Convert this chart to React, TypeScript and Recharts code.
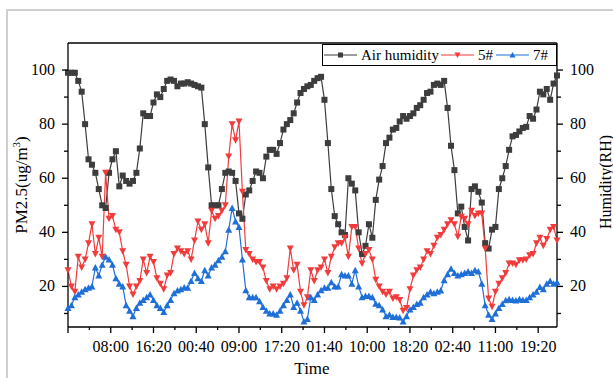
import React from "react";
import { LineChart, Line, XAxis, YAxis, ReferenceLine } from "recharts";

// one reading every 40 min, starting 23:40 of day 0
const sampleMinutes = 40;

const humidity = [
  99, 99, 99, 96, 92, 80, 67, 65, 62, 56, 50, 49, 62, 67, 70, 57, 61, 59, 58, 59,
  62, 71, 84, 83, 83, 88, 91, 90, 93, 96, 96.5, 96, 94, 95, 95, 95.5, 95, 94.5, 94, 93.5,
  80, 64, 50, 50, 50, 56, 62, 62.5, 62, 59, 47, 45, 54, 55.5, 59, 62.5, 62, 60, 68, 70.5,
  70.5, 69, 73, 78, 80, 81.5, 84, 88, 91.5, 93, 94, 94.5, 96, 97, 97.5, 89, 73, 56, 46, 43,
  40, 39, 60, 58, 55.5, 40, 32, 35, 43, 38, 52, 59.5, 64.5, 73, 75, 78, 78.6, 81, 83, 82,
  83, 84, 86, 87, 89, 91.5, 92, 94.5, 95, 94.5, 96, 86, 72, 63, 47, 49.5, 42, 37, 56, 57,
  55, 51, 36, 34, 41, 42, 56, 60, 64.5, 70.5, 75.5, 76, 77.3, 78.6, 79, 83, 82, 85.4, 92, 91,
  93, 89, 95, 98,
];

const pm5 = [
  26, 20, 18, 31, 27, 30, 36, 43, 32, 38, 31, 62, 45, 46, 41, 40, 33, 28, 20, 17,
  20, 22, 30, 25, 31, 29, 23, 21, 19, 24, 25, 32, 34, 33, 32, 33, 30, 37, 44, 41,
  43, 36, 48, 45, 46, 48, 50, 68, 80, 74, 81, 55, 33.5, 32, 30, 29, 29, 27, 22, 19,
  20, 19, 20, 21, 23, 34, 26, 28, 18, 13, 16, 26, 22, 26, 27, 30, 25, 31, 34.5, 36,
  36, 38, 31, 42, 42, 34, 28.5, 32, 33.5, 30, 22.5, 20, 18, 17, 18, 15.5, 16, 15, 11, 12,
  19, 24, 26, 27, 30, 33, 32, 35, 38, 39, 41, 43, 44.5, 43, 38.4, 45.8, 45, 43, 48, 46,
  47, 47, 34, 15.5, 12.5, 18, 21, 23, 25, 28.5, 28.5, 28, 29.7, 29.7, 30, 31.5, 32, 36, 38, 35,
  37.5, 41, 42, 37,
];

const pm7 = [
  12, 13, 16, 17, 18, 19, 19.5, 20, 27, 24, 28, 31, 30, 28, 23, 21, 20, 13, 11, 9,
  12, 14, 15, 16, 17, 15, 13, 12, 10.5, 13, 15, 17.5, 18.5, 19, 19.6, 19.5, 22, 25, 23, 22,
  26, 24, 27, 28, 29.7, 31, 33, 41, 49, 44, 42, 30, 18.6, 16, 16, 16, 14.5, 12.4, 11, 10,
  10, 9.5, 11, 13, 15, 17, 12.4, 14, 11, 7, 8, 16, 15, 17, 18.6, 19.5, 19.5, 21.5, 20, 20,
  24.5, 24, 24, 21, 26, 20, 16, 16.5, 16.5, 16, 13.6, 13, 11.5, 9, 9.5, 8.7, 8.7, 8.5, 7, 9,
  11.5, 12.4, 13.5, 14, 16, 17, 18, 17.5, 18, 18.5, 22.3, 24.5, 26.5, 25, 24, 24.5, 25, 25.5, 25, 26,
  25.5, 21, 13, 9.5, 8, 10, 12, 13.5, 14.9, 15.3, 15, 14.8, 15.3, 15, 15, 16, 17, 18, 19.8, 19,
  21, 22, 21, 21.5,
];

// labelled every 8h20m, first label one step after the start
const timeLabels = ["08:00", "16:20", "00:40", "09:00", "17:20", "01:40", "10:00", "18:20", "02:40", "11:00", "19:20"];
const labelStep = 500;
const yTicks = [10, 20, 30, 40, 50, 60, 70, 80, 90, 100];
const yDomain = [5, 110];

const FONT = '"Liberation Serif", "Times New Roman", serif';
const BLACK = "#3d3d3d";
const RED = "#f23b3b";
const BLUE = "#1f6fd8";

const data = humidity.map((h, i) => ({ t: i * sampleMinutes, humidity: h, s5: pm5[i], s7: pm7[i] }));
const xMax = (humidity.length - 1) * sampleMinutes;
const xTicks: number[] = [];
for (let t = 0; t <= xMax; t += labelStep / 2) xTicks.push(t);

function XTick({ x, y, payload }: any) {
  const major = payload.value % labelStep === 0;
  const idx = payload.value / labelStep - 1;
  return (
    <g>
      <line x1={x} x2={x} y1={y} y2={y + (major ? 6 : 3)} stroke="#000" strokeWidth={1.3} />
      {major && idx >= 0 && (
        <text x={x} y={y + 25} textAnchor="middle" fontSize={16} fontFamily={FONT} fill="#000">
          {timeLabels[idx]}
        </text>
      )}
    </g>
  );
}

function YTick({ x, y, payload, side }: any) {
  const major = payload.value % 20 === 0;
  const len = major ? 6 : 4;
  const dir = side === "left" ? -1 : 1;
  return (
    <g>
      <line x1={x} x2={x + dir * len} y1={y} y2={y} stroke="#000" strokeWidth={1.3} />
      {major && (
        <text
          x={x + dir * 13}
          y={y + 5}
          textAnchor={side === "left" ? "end" : "start"}
          fontSize={16}
          fontFamily={FONT}
          fill="#000"
        >
          {payload.value}
        </text>
      )}
    </g>
  );
}

const squareDot = (p: any) => (
  <rect key={`h${p.index}`} x={p.cx - 3} y={p.cy - 3} width={6} height={6} fill={BLACK} />
);
const downDot = (p: any) => (
  <path key={`a${p.index}`} d={`M${p.cx - 3.5},${p.cy - 3}L${p.cx + 3.5},${p.cy - 3}L${p.cx},${p.cy + 3.5}Z`} fill={RED} />
);
const upDot = (p: any) => (
  <path key={`b${p.index}`} d={`M${p.cx - 3.5},${p.cy + 3}L${p.cx + 3.5},${p.cy + 3}L${p.cx},${p.cy - 3.5}Z`} fill={BLUE} />
);

const leftTitle = () => (
  <text transform="rotate(-90, 27, 185)" x={27} y={185} textAnchor="middle" fontSize={17} fontFamily={FONT} fill="#000">
    PM2.5(ug/m<tspan dy={-7} fontSize={11}>3</tspan>
    <tspan dy={7}>)</tspan>
  </text>
);

const rightTitle = () => (
  <text transform="rotate(-90, 611, 182)" x={611} y={182} textAnchor="middle" fontSize={16} fontFamily={FONT} fill="#000">
    Humidity(RH)
  </text>
);

function LegendIcon({ color, shape }: { color: string; shape: string }) {
  return (
    <svg width={33} height={10} style={{ display: "block" }}>
      <line x1={0} x2={33} y1={5} y2={5} stroke={color} strokeWidth={1.2} />
      {shape === "square" && <rect x={14} y={2.5} width={5} height={5} fill={color} />}
      {shape === "down" && <path d="M13.5,2.5L19.5,2.5L16.5,8Z" fill={color} />}
      {shape === "up" && <path d="M13.5,7.5L19.5,7.5L16.5,2Z" fill={color} />}
    </svg>
  );
}

export default function App() {
  return (
    <div style={{ position: "absolute", left: 0, top: 0, width: 613, height: 378, background: "#fff", overflow: "hidden" }}>
      <div
        style={{
          position: "absolute",
          left: 6,
          top: 9,
          width: 613,
          height: 378,
          borderTop: "2px solid #cfcfcf",
          borderLeft: "2px solid #cfcfcf",
        }}
      />
      <LineChart width={613} height={378} data={data} margin={{ top: 43, right: 16, left: 28, bottom: 0 }}>
        <XAxis
          dataKey="t"
          type="number"
          domain={[0, xMax]}
          ticks={xTicks}
          interval={0}
          height={51}
          tickSize={0}
          tickMargin={0}
          tick={<XTick />}
          axisLine={{ stroke: "#000", strokeWidth: 1.3 }}
          label={() => (
            <text x={312} y={374} textAnchor="middle" fontSize={17} fontFamily={FONT} fill="#000">
              Time
            </text>
          )}
        />
        <YAxis
          yAxisId="left"
          domain={yDomain}
          ticks={yTicks}
          interval={0}
          width={40}
          tickSize={0}
          tickMargin={0}
          tick={<YTick side="left" />}
          axisLine={{ stroke: "#000", strokeWidth: 1.3 }}
          allowDataOverflow
          label={leftTitle}
        />
        <YAxis
          yAxisId="right"
          orientation="right"
          domain={yDomain}
          ticks={yTicks}
          interval={0}
          width={40}
          tickSize={0}
          tickMargin={0}
          tick={<YTick side="right" />}
          axisLine={{ stroke: "#000", strokeWidth: 1.3 }}
          allowDataOverflow
          label={rightTitle}
        />
        <ReferenceLine yAxisId="left" y={yDomain[1]} stroke="#000" strokeWidth={1.3} />
        <Line yAxisId="right" dataKey="humidity" stroke={BLACK} strokeWidth={1.2} dot={squareDot} isAnimationActive={false} />
        <Line yAxisId="left" dataKey="s5" stroke={RED} strokeWidth={1.2} dot={downDot} isAnimationActive={false} />
        <Line yAxisId="left" dataKey="s7" stroke={BLUE} strokeWidth={1.2} dot={upDot} isAnimationActive={false} />
      </LineChart>
      <div
        style={{
          position: "absolute",
          left: 322,
          top: 44,
          width: 235,
          height: 22,
          border: "1px solid #000",
          boxSizing: "border-box",
          display: "flex",
          alignItems: "center",
          fontFamily: FONT,
          fontSize: 15,
          color: "#000",
          background: "#fff",
          whiteSpace: "nowrap",
        }}
      >
        <span style={{ marginLeft: 1 }}><LegendIcon color={BLACK} shape="square" /></span>
        <span style={{ marginLeft: 4 }}>Air humidity</span>
        <span style={{ marginLeft: 2 }}><LegendIcon color={RED} shape="down" /></span>
        <span style={{ marginLeft: 4 }}>5#</span>
        <span style={{ marginLeft: 3 }}><LegendIcon color={BLUE} shape="up" /></span>
        <span style={{ marginLeft: 4 }}>7#</span>
      </div>
    </div>
  );
}
